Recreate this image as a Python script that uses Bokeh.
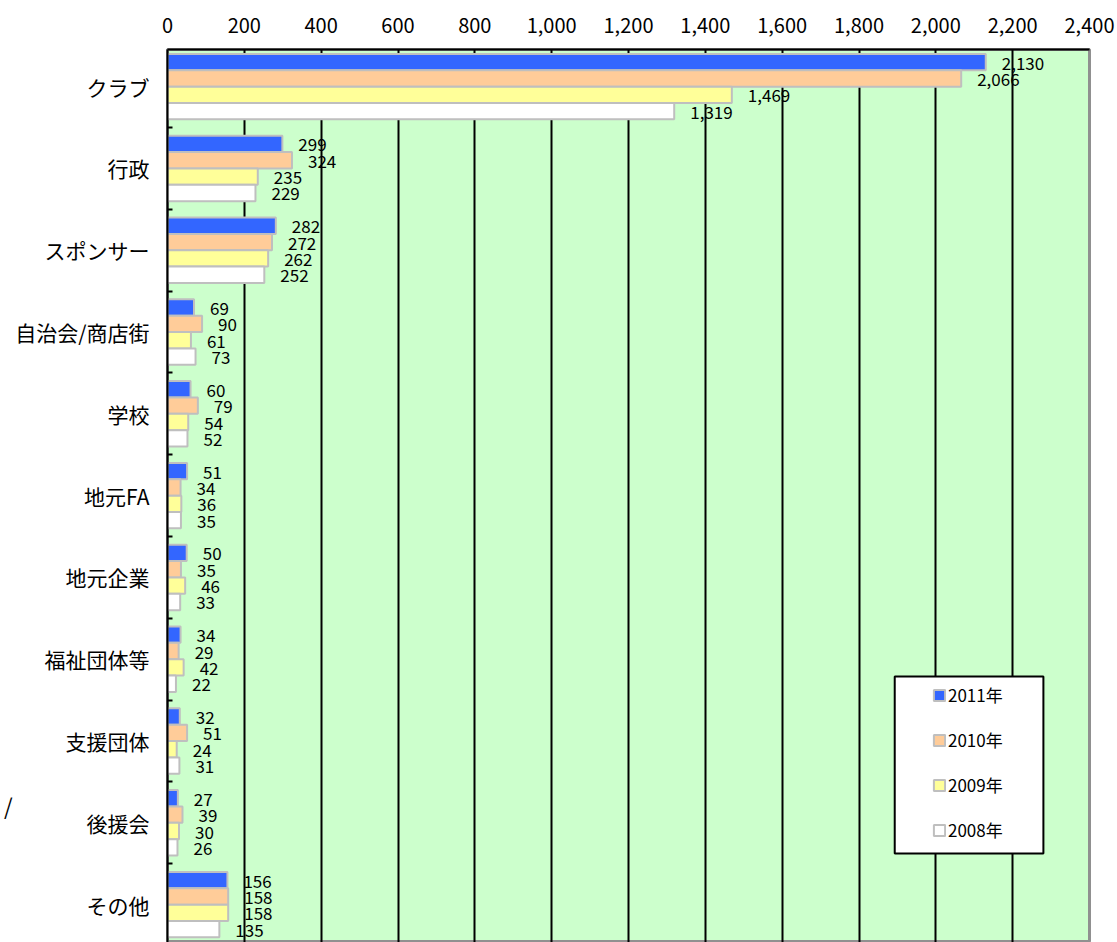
from bokeh.plotting import figure
from bokeh.models import (Range1d, FixedTicker, NumeralTickFormatter, Legend,
                          LegendItem, BoxAnnotation, LinearAxis, ColumnDataSource)
from bokeh.core.properties import value
from bokeh.embed import file_html
from bokeh.resources import INLINE

FONT = "Noto Sans CJK JP"

categories = ["クラブ", "行政", "スポンサー", "自治会/商店街", "学校", "地元FA",
              "地元企業", "福祉団体等", "支援団体", "後援会", "その他"]
v2011 = [2130, 299, 282, 69, 60, 51, 50, 34, 32, 27, 156]
v2010 = [2066, 324, 272, 90, 79, 34, 35, 29, 51, 39, 158]
v2009 = [1469, 235, 262, 61, 54, 36, 46, 42, 24, 30, 158]
v2008 = [1319, 229, 252, 73, 52, 35, 33, 22, 31, 26, 135]
series_names = ["2011年", "2010年", "2009年", "2008年"]
x_ticks = [0, 200, 400, 600, 800, 1000, 1200, 1400, 1600, 1800, 2000, 2200, 2400]

series_values = [v2011, v2010, v2009, v2008]
series_colors = ["#3366FF", "#FFCC99", "#FFFF99", "#FFFFFF"]
bar_offsets = [0.3, 0.1, -0.1, -0.3]

n = len(categories)
centers = [n - 0.5 - i for i in range(n)]

p = figure(width=1117, height=942, output_backend="svg", toolbar_location=None,
           title=None, x_range=Range1d(0, 2400), y_range=Range1d(0.037, 10.954),
           x_axis_location="above",
           min_border_left=166, min_border_top=49, min_border_right=28,
           min_border_bottom=0)
p.background_fill_color = "#CCFFCC"
p.border_fill_color = "white"
p.outline_line_color = "#909090"
p.outline_line_width = 3

# grid: black verticals at each x tick
p.xgrid.ticker = FixedTicker(ticks=x_ticks)
p.xgrid.grid_line_color = "black"
p.xgrid.grid_line_width = 2
p.ygrid.visible = False

# top value axis
xa = p.xaxis[0]
xa.ticker = FixedTicker(ticks=x_ticks)
xa.formatter = NumeralTickFormatter(format="0,0")
xa.major_tick_in = 0
xa.major_tick_out = 0
xa.minor_tick_line_color = None
xa.axis_line_color = "black"
xa.axis_line_width = 2
xa.major_label_text_font = FONT
xa.major_label_text_font_size = "20px"
xa.major_label_text_color = "black"
xa.major_label_standoff = 17

# left category axis: labels at band centres, marks at band boundaries
ya = p.yaxis[0]
ya.ticker = FixedTicker(ticks=centers, minor_ticks=list(range(n + 1)))
ya.major_label_overrides = {c: name for c, name in zip(centers, categories)}
ya.major_tick_line_color = None
ya.major_tick_in = 0
ya.major_tick_out = 0
ya.minor_tick_in = 5
ya.minor_tick_out = 0
ya.minor_tick_line_color = "black"
ya.minor_tick_line_width = 2
ya.axis_line_color = "black"
ya.axis_line_width = 2
ya.major_label_text_font = FONT
ya.major_label_text_font_size = "21px"
ya.major_label_text_color = "black"
ya.major_label_standoff = 18

# stray slash mark at the far left edge
slash_axis = LinearAxis(ticker=FixedTicker(ticks=[1.72]),
                        major_label_overrides={1.72: "/"},
                        axis_line_color=None, major_tick_line_color=None,
                        minor_tick_line_color=None,
                        major_tick_in=0, major_tick_out=0,
                        major_label_standoff=0,
                        major_label_text_font=FONT,
                        major_label_text_font_size="22px",
                        major_label_text_color="black")
p.add_layout(slash_axis, "left")

sources = []
renderers = []
for vals, off, col in zip(series_values, bar_offsets, series_colors):
    src = ColumnDataSource(dict(y=[c + off for c in centers], right=vals,
                                txt=[f"{v:,}" for v in vals]))
    r = p.hbar(y="y", left=0, right="right", height=0.2, source=src,
               fill_color=col, line_color="#BFBFBF", line_width=2)
    sources.append(src)
    renderers.append(r)

for src in sources:
    p.text(x="right", y="y", text="txt", source=src, x_offset=16, y_offset=1,
           text_align="left", text_baseline="middle",
           text_font=value(FONT), text_font_size="17px", text_color="black")

# legend frame
p.add_layout(BoxAnnotation(left=1893, right=2280, bottom=1.125, top=3.289,
                           fill_color="white", fill_alpha=1.0,
                           line_color="black", line_width=2, line_alpha=1.0))

legend = Legend(items=[LegendItem(label=nm, renderers=[r])
                       for nm, r in zip(series_names, renderers)],
                location=(765, 100), orientation="vertical",
                padding=0, margin=0, spacing=20,
                glyph_width=14, glyph_height=14, label_height=20,
                label_standoff=2, border_line_color=None,
                background_fill_alpha=0.0,
                label_text_font=FONT, label_text_font_size="17px",
                label_text_color="black")
p.add_layout(legend)

open("out.html", "w").write(file_html(p, INLINE))
